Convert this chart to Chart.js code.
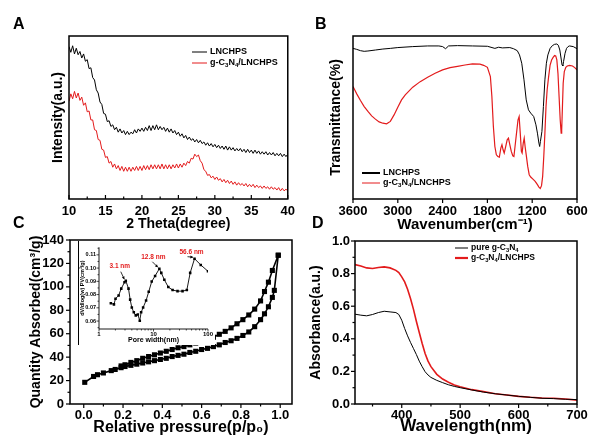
<!DOCTYPE html>
<html>
<head>
<meta charset="utf-8">
<script src="https://cdn.jsdelivr.net/npm/chart.js@4.4.1/dist/chart.umd.min.js"></script>
<style>
  html, body { margin: 0; padding: 0; background: #fff; }
  #page { position: relative; width: 597px; height: 437px; overflow: hidden; font-family: "Liberation Sans", Arial, sans-serif; }
  canvas { position: absolute; }
  .tag { position: absolute; font-weight: bold; font-size: 16px; line-height: 1; color: #000; }
  #insetBox { position: absolute; left: 78px; top: 241px; width: 136px; height: 104px; border-left: 1px solid #000; background: #fff; }
  #insetBox canvas { left: 0; top: 0; }
</style>
</head>
<body>
<div id="page">
  <canvas id="xrd" width="300" height="234" style="left:0;top:0"></canvas>
  <canvas id="ftir" width="297" height="234" style="left:300px;top:0"></canvas>
  <canvas id="bet" width="300" height="219" style="left:0;top:218px"></canvas>
  <canvas id="uv" width="297" height="219" style="left:300px;top:218px"></canvas>
  <div id="insetBox"><canvas id="pore" width="136" height="104"></canvas></div>
  <div class="tag" style="left:13px;top:16px">A</div>
  <div class="tag" style="left:315px;top:16px">B</div>
  <div class="tag" style="left:13px;top:215px">C</div>
  <div class="tag" style="left:312px;top:215px">D</div>
</div>
<script>
const FONT = '"Liberation Sans", Arial, Helvetica, sans-serif';
const RED = '#e31b1c';

// ---- A: XRD ----
const xrdTheta = [
  10, 10.25, 10.5, 10.75, 11, 11.25, 11.5, 11.75, 12, 12.25, 12.5, 12.75, 13, 13.25, 13.5, 13.75,
  14, 14.25, 14.5, 14.75, 15, 15.25, 15.5, 15.75, 16, 16.25, 16.5, 16.75, 17, 17.25, 17.5, 17.75,
  18, 18.25, 18.5, 18.75, 19, 19.25, 19.5, 19.75, 20, 20.25, 20.5, 20.75, 21, 21.25, 21.5, 21.75,
  22, 22.25, 22.5, 22.75, 23, 23.25, 23.5, 23.75, 24, 24.25, 24.5, 24.75, 25, 25.25, 25.5, 25.75,
  26, 26.25, 26.5, 26.75, 27, 27.25, 27.5, 27.75, 28, 28.25, 28.5, 28.75, 29, 29.25, 29.5, 29.75,
  30, 30.25, 30.5, 30.75, 31, 31.25, 31.5, 31.75, 32, 32.25, 32.5, 32.75, 33, 33.25, 33.5, 33.75,
  34, 34.25, 34.5, 34.75, 35, 35.25, 35.5, 35.75, 36, 36.25, 36.5, 36.75, 37, 37.25, 37.5, 37.75,
  38, 38.25, 38.5, 38.75, 39, 39.25, 39.5, 39.75, 40,
];
const xrdLNCHPS = [
  93.5, 90, 94, 89, 92.5, 88.5, 90.5, 86.5, 89, 84.5, 85.5, 80, 80.5, 74.5, 73, 67,
  65, 59.5, 58, 52.5, 52, 47.5, 48, 44.5, 45.5, 42.5, 44, 41, 43, 40.5, 42, 39.5,
  41.5, 39.5, 41, 40, 42.5, 40.5, 43, 41.5, 43.5, 41.5, 44, 42, 45, 42, 45, 42.5,
  45.5, 42.5, 44.5, 42.5, 44, 41.5, 43.5, 41, 43, 40.5, 42, 39.5, 41, 38.5, 40, 37.5,
  39, 36.5, 38, 36, 37, 35, 36.5, 34.5, 36, 34, 35, 33, 34.5, 32.5, 34, 32,
  33.5, 31.5, 33, 31, 32.5, 30.5, 32.5, 30, 32, 30, 31.5, 29.5, 31, 29.5, 31, 29,
  30.5, 28.5, 30.5, 28.5, 30, 28, 30, 28, 29.5, 27.5, 29, 27.5, 29, 27, 28.5, 27,
  28.5, 26.5, 28, 26.5, 28, 26, 27.5, 26, 27.5,
];
const xrdComposite = [
  60, 64.5, 61.5, 66, 62, 65, 60.5, 62.5, 57.5, 59, 53.5, 54, 48.5, 48.5, 42.5, 42,
  36.5, 36, 30.5, 30, 25.5, 26, 22, 23, 19.5, 21.5, 18.5, 20.5, 17.5, 20, 17, 19.5,
  17, 19.5, 17, 19.5, 17.5, 20, 17.5, 20, 17.5, 20.5, 18, 20.5, 18, 21, 18.5, 21,
  18.5, 21, 18.5, 21.5, 18.5, 21, 18.5, 21, 18.5, 21, 19, 21.5, 19, 21.5, 19.5, 22,
  20.5, 23, 22, 25, 24.5, 27.5, 26, 27, 23.5, 22, 18, 17, 14.5, 15, 13, 14,
  12, 13.5, 11.5, 12.5, 10.5, 12, 10, 11.5, 9.5, 11, 9, 10.5, 8.5, 10, 8.5, 9.5,
  8, 9.5, 7.5, 9, 7.5, 9, 7, 8.5, 7, 8, 6.5, 8, 6.5, 7.5, 6, 7.5,
  6, 7, 5.5, 7, 5, 6.5, 5, 6, 5,
];
const xrdTicks = [10, 15, 20, 25, 30, 35, 40];

// ---- B: FTIR ----
const ftirWaveLNCHPS = [3600, 3550, 3500, 3450, 3400, 3300, 3200, 3100, 3000, 2800, 2600, 2450, 2400, 2360, 2320, 2200, 2000, 1800, 1700, 1650, 1600, 1500, 1450, 1400, 1370, 1340, 1310, 1280, 1250, 1220, 1180, 1150, 1130, 1110, 1100, 1090, 1070, 1050, 1030, 1010, 990, 960, 930, 900, 870, 850, 830, 810, 800, 790, 780, 760, 740, 720, 700, 650, 600];
const ftirLNCHPS = [92.4, 91.8, 91.0, 90.6, 90.8, 91.4, 92.0, 92.4, 92.9, 93.5, 93.9, 93.9, 93.5, 92.2, 93.9, 94.1, 93.9, 93.7, 92.4, 93.1, 92.7, 92.9, 92.2, 91, 88.4, 83.3, 73.1, 60.8, 54.7, 52.7, 50.6, 45.5, 40.4, 34.3, 32.2, 35.3, 41.4, 56.7, 73.1, 83.3, 88.4, 92.4, 94.1, 94.9, 95.1, 94.3, 91.4, 85.3, 82.2, 81.6, 84.3, 89.4, 92.4, 93.5, 93.9, 93.5, 92.2];
const ftirWaveComposite = [3600, 3550, 3500, 3450, 3400, 3350, 3300, 3250, 3200, 3150, 3100, 3050, 3000, 2950, 2900, 2800, 2700, 2600, 2500, 2400, 2300, 2200, 2100, 2000, 1900, 1850, 1800, 1760, 1740, 1720, 1700, 1680, 1660, 1640, 1620, 1605, 1590, 1575, 1555, 1535, 1518, 1500, 1480, 1460, 1445, 1430, 1410, 1390, 1375, 1360, 1345, 1335, 1320, 1307, 1295, 1280, 1260, 1240, 1220, 1190, 1160, 1130, 1110, 1092, 1075, 1060, 1045, 1030, 1015, 1000, 980, 960, 940, 920, 900, 885, 870, 855, 840, 825, 812, 805, 795, 785, 770, 750, 730, 700, 660, 630, 600];
const ftirComposite = [69.0, 64.5, 60.4, 56.7, 53.7, 51.0, 49.0, 47.3, 46.5, 46.1, 47.6, 51.6, 56.3, 60.8, 63.9, 68.6, 72.0, 74.7, 77.1, 79.2, 80.6, 81.4, 82.2, 82.9, 82.7, 82.0, 80.8, 75.1, 62.9, 44.5, 32.2, 27.1, 26.1, 25.7, 31.2, 33.3, 30.2, 28.2, 32.2, 36.3, 37.3, 33.3, 29.2, 26.5, 26.1, 32.2, 40.4, 48.6, 50.6, 40.4, 29.2, 28.2, 34.3, 37.3, 32.2, 27.1, 20.0, 14.9, 13.5, 12.2, 10.8, 8.8, 7.3, 6.5, 8.2, 13.9, 26.1, 40.4, 56.7, 66.9, 75.1, 82.2, 85.3, 86.9, 88.0, 87.8, 85.3, 77.1, 62.9, 48.6, 40.4, 42.4, 56.7, 71.0, 78.2, 80.8, 81.6, 82.0, 81.6, 80.6, 79.2];
const ftirTicks = [3600, 3000, 2400, 1800, 1200, 600];

// ---- C: N2 isotherm ----
const isoAdsP = [0.005, 0.05, 0.07, 0.10, 0.14, 0.16, 0.19, 0.21, 0.24, 0.27, 0.30, 0.33, 0.36, 0.39, 0.42, 0.45, 0.48, 0.51, 0.54, 0.57, 0.60, 0.63, 0.66, 0.69, 0.72, 0.75, 0.78, 0.81, 0.84, 0.87, 0.90, 0.92, 0.94, 0.96, 0.97, 0.99];
const isoAdsQ = [18.5, 23.5, 25, 26.5, 28.5, 29.5, 31, 32, 33, 34, 35, 36, 37, 38, 39, 40.5, 41.5, 42.5, 44, 45, 46.5, 47.5, 49, 50.5, 52.5, 54, 56, 58.5, 61.5, 66, 72, 77, 83, 91, 97, 127];
const isoDesP = [0.99, 0.96, 0.94, 0.92, 0.90, 0.87, 0.84, 0.81, 0.78, 0.75, 0.72, 0.69, 0.66, 0.63, 0.60, 0.57, 0.54, 0.51, 0.48, 0.45, 0.42, 0.39, 0.36, 0.33, 0.30, 0.27, 0.24, 0.21, 0.19];
const isoDesQ = [127, 114, 104, 96, 88, 81, 76, 72, 68.5, 65, 62, 59.5, 57, 55, 53.5, 52, 50.5, 49, 48, 46.5, 45, 43.5, 42, 40.5, 39, 37, 35.5, 33.5, 32.5];
const isoXTicks = [0, 0.2, 0.4, 0.6, 0.8, 1.0];
const isoYTicks = [0, 20, 40, 60, 80, 100, 120, 140];

// ---- C inset: pore size distribution ----
const poreWidth = [1.65, 1.88, 2.01, 2.29, 2.56, 2.94, 3.1, 3.48, 3.73, 4.0, 4.35, 4.73, 5.15, 5.6, 5.93, 6.45, 7.31, 8.17, 9.27, 10.7, 12.8, 13.9, 15.8, 18.7, 22.4, 27.6, 34.1, 40.9, 47.1, 56.6, 73.6, 100];
const poreVolume = [0.0734, 0.0726, 0.0769, 0.0793, 0.0845, 0.0893, 0.0905, 0.0845, 0.0762, 0.0702, 0.0666, 0.0643, 0.065, 0.0603, 0.0666, 0.0702, 0.0755, 0.0821, 0.0898, 0.0941, 0.0995, 0.0964, 0.0912, 0.0857, 0.0834, 0.0826, 0.0826, 0.0834, 0.0964, 0.1071, 0.1024, 0.0976];
const poreXTicks = [1, 10, 100];
const poreYTicks = [0.06, 0.07, 0.08, 0.09, 0.10, 0.11];
const peakWidths = [3.1, 12.8, 56.6];
const peakLabels = ['3.1 nm', '12.8 nm', '56.6 nm'];

// ---- D: UV-vis ----
const uvWave = [320, 330, 340, 350, 360, 370, 380, 390, 395, 400, 405, 410, 415, 420, 425, 430, 435, 440, 445, 450, 460, 470, 480, 490, 500, 520, 540, 560, 580, 600, 620, 640, 660, 680, 700];
const uvPure = [0.551, 0.545, 0.541, 0.549, 0.561, 0.569, 0.565, 0.561, 0.549, 0.514, 0.463, 0.418, 0.378, 0.341, 0.304, 0.263, 0.229, 0.198, 0.178, 0.163, 0.145, 0.131, 0.118, 0.108, 0.1, 0.086, 0.073, 0.063, 0.055, 0.047, 0.041, 0.035, 0.033, 0.029, 0.027];
const uvComposite = [0.855, 0.847, 0.835, 0.831, 0.837, 0.841, 0.835, 0.82, 0.806, 0.78, 0.749, 0.704, 0.647, 0.582, 0.508, 0.439, 0.371, 0.31, 0.263, 0.229, 0.182, 0.153, 0.133, 0.116, 0.106, 0.088, 0.076, 0.063, 0.055, 0.047, 0.041, 0.037, 0.035, 0.031, 0.024];
const uvXTicks = [400, 500, 600, 700];
const uvYTicks = [0, 0.2, 0.4, 0.6, 0.8, 1.0];

// ---- helpers ----
const pts = (xs, ys) => xs.map((x, i) => ({ x, y: ys[i] }));

// text with "_3" style subscripts
const drawRich = (ctx, x, y, text, size) => {
  text.split(/(_\d)/).forEach((part) => {
    if (!part) return;
    const sub = part[0] === '_';
    const str = sub ? part.slice(1) : part;
    ctx.font = `bold ${sub ? size * 0.68 : size}px ${FONT}`;
    ctx.fillText(str, x, sub ? y + size * 0.3 : y);
    x += ctx.measureText(str).width;
  });
};

const axis = (o) => ({
  type: o.type || 'linear',
  min: o.min,
  max: o.max,
  reverse: !!o.reverse,
  afterBuildTicks: (s) => { s.ticks = (o.ticks || []).map((v) => ({ value: v })); },
  afterFit: (s) => { if (o.w !== undefined) s.width = o.w; if (o.h !== undefined) s.height = o.h; },
  grid: { display: false, drawTicks: false },
  border: { display: false },
  ticks: {
    display: o.ticks !== undefined && o.ticks.length > 0,
    autoSkip: false,
    maxRotation: 0,
    color: '#000',
    padding: o.pad || 0,
    font: { family: FONT, size: o.size || 13, weight: 'bold' },
    callback: o.fmt || ((v) => v),
  },
  title: {
    display: !!o.title,
    text: o.title,
    color: '#000',
    padding: o.titlePad || 0,
    font: { family: FONT, size: o.titleSize || 14, weight: 'bold', lineHeight: 1.2 },
  },
});

const minorValues = (scale) => {
  const vals = scale.ticks.map((t) => t.value).sort((a, b) => a - b);
  const out = [];
  if (scale.type === 'logarithmic') {
    for (let d = 1; d < scale.max; d *= 10) for (let k = 2; k < 10; k++) out.push(d * k);
    return out;
  }
  if (vals.length < 2) return out;
  const step = vals[1] - vals[0];
  for (let i = -1; i < vals.length; i++) {
    const v = vals[0] + (i + 0.5) * step;
    if (v >= scale.min && v <= scale.max) out.push(v);
  }
  return out;
};

const framePlugin = {
  id: 'frame',
  afterDatasetsDraw(chart, args, o) {
    const { ctx, chartArea: a, scales } = chart;
    ctx.save();
    ctx.strokeStyle = '#000';
    ctx.lineWidth = o.width || 1.5;
    ctx.beginPath();
    if (o.box) {
      ctx.rect(a.left, a.top, a.right - a.left, a.bottom - a.top);
    } else {
      ctx.moveTo(a.left, a.top);
      ctx.lineTo(a.left, a.bottom);
      ctx.lineTo(a.right, a.bottom);
    }
    ctx.stroke();
    ctx.lineWidth = o.tickWidth || 1.2;
    const dir = o.dir || 1;
    const major = o.major || 4;
    const minor = o.minor === undefined ? 2.5 : o.minor;
    const mark = (scale, horiz, values, len) => {
      values.forEach((v) => {
        const p = scale.getPixelForValue(v);
        ctx.beginPath();
        if (horiz) { ctx.moveTo(p, a.bottom); ctx.lineTo(p, a.bottom + dir * len); }
        else { ctx.moveTo(a.left, p); ctx.lineTo(a.left - dir * len, p); }
        ctx.stroke();
      });
    };
    (o.axes || ['x', 'y']).forEach((id) => {
      const s = scales[id];
      const horiz = s.isHorizontal();
      mark(s, horiz, s.ticks.map((t) => t.value), major);
      if (minor > 0) mark(s, horiz, minorValues(s), minor);
    });
    ctx.restore();
  },
};

const legendPlugin = (items) => ({
  id: 'legendLines',
  afterDraw(chart) {
    const { ctx } = chart;
    ctx.save();
    ctx.textBaseline = 'middle';
    ctx.fillStyle = '#000';
    items.forEach((it) => {
      ctx.strokeStyle = it.color;
      ctx.lineWidth = it.width;
      ctx.beginPath();
      ctx.moveTo(it.x, it.y);
      ctx.lineTo(it.x + it.len, it.y);
      ctx.stroke();
      drawRich(ctx, it.x + it.len + 3, it.y, it.text, it.size);
    });
    ctx.restore();
  },
});

Chart.register(framePlugin);
Chart.defaults.font.family = FONT;

const baseOptions = (padding, scales, frame) => ({
  responsive: false,
  animation: false,
  layout: { padding },
  plugins: { legend: { display: false }, tooltip: { enabled: false }, frame },
  scales,
});

// ---- A ----
new Chart(document.getElementById('xrd'), {
  type: 'line',
  data: {
    datasets: [
      { data: pts(xrdTheta, xrdLNCHPS), borderColor: '#000', borderWidth: 1, pointRadius: 0 },
      { data: pts(xrdTheta, xrdComposite), borderColor: RED, borderWidth: 1, pointRadius: 0 },
    ],
  },
  options: baseOptions({ top: 36, right: 9 }, {
    x: axis({ min: 10, max: 40, ticks: xrdTicks, h: 35, pad: 5, title: '2 Theta(degree)', titleSize: 14, titlePad: { bottom: 1 } }),
    y: axis({ min: 0, max: 100, ticks: [], w: 69, title: 'Intensity(a.u.)', titleSize: 14, titlePad: { top: 50 } }),
  }, { box: true, axes: ['x'], dir: -1 }),
  plugins: [legendPlugin([
    { x: 192, y: 52, len: 15, color: '#000', width: 1, text: 'LNCHPS', size: 9 },
    { x: 192, y: 63, len: 15, color: RED, width: 1, text: 'g-C_3N_4/LNCHPS', size: 9 },
  ])],
});

// ---- B ----
new Chart(document.getElementById('ftir'), {
  type: 'line',
  data: {
    datasets: [
      { data: pts(ftirWaveLNCHPS, ftirLNCHPS), borderColor: '#000', borderWidth: 1, pointRadius: 0 },
      { data: pts(ftirWaveComposite, ftirComposite), borderColor: RED, borderWidth: 1.2, pointRadius: 0 },
    ],
  },
  options: baseOptions({ top: 36, right: 20 }, {
    x: axis({ min: 600, max: 3600, reverse: true, ticks: ftirTicks, h: 35, pad: 5, title: 'Wavenumber(cm\u207B\u00B9)', titleSize: 15, titlePad: { bottom: 0 } }),
    y: axis({ min: 0, max: 100, ticks: [], w: 53, title: 'Transmittance(%)', titleSize: 14, titlePad: { top: 28 } }),
  }, { box: true, axes: ['x'], dir: 1, minor: 0 }),
  plugins: [legendPlugin([
    { x: 62, y: 173, len: 18, color: '#000', width: 2, text: 'LNCHPS', size: 9 },
    { x: 62, y: 183, len: 18, color: RED, width: 1, text: 'g-C_3N_4/LNCHPS', size: 9 },
  ])],
});

// ---- C ----
const isoStyle = { borderColor: '#000', backgroundColor: '#000', borderWidth: 1.6, pointStyle: 'rect', pointRadius: 3.6, pointBorderWidth: 0 };
new Chart(document.getElementById('bet'), {
  type: 'line',
  data: {
    datasets: [
      { data: pts(isoAdsP, isoAdsQ), ...isoStyle },
      { data: pts(isoDesP, isoDesQ), ...isoStyle },
    ],
  },
  options: baseOptions({ top: 22, right: 8 }, {
    x: axis({ min: -0.07, max: 1.06, ticks: isoXTicks, h: 33, pad: 4, size: 13, fmt: (v) => v.toFixed(1), title: 'Relative pressure(p/p\u2080)', titleSize: 16, titlePad: { bottom: 0 } }),
    y: axis({ min: 0, max: 140, ticks: isoYTicks, w: 70, pad: 6, size: 13, title: 'Quantity Absorbed(cm\u00B3/g)', titleSize: 14, titlePad: { top: 28 } }),
  }, { box: true, dir: 1 }),
});

// ---- C inset ----
new Chart(document.getElementById('pore'), {
  type: 'line',
  data: {
    datasets: [
      { data: pts(poreWidth, poreVolume), borderColor: '#000', backgroundColor: '#000', borderWidth: 0.9, pointStyle: 'rect', pointRadius: 1.8, pointBorderWidth: 0 },
    ],
  },
  options: baseOptions({ top: 2, right: 6 }, {
    x: axis({ type: 'logarithmic', min: 1, max: 100, ticks: poreXTicks, h: 16, pad: 2, size: 6, title: 'Pore width(nm)', titleSize: 7, titlePad: { bottom: 1 } }),
    y: axis({ min: 0.054, max: 0.1157, ticks: poreYTicks, w: 20, pad: 3, size: 5.5, fmt: (v) => v.toFixed(2), title: 'dV/dlog(w) PV(cm\u00B3/g)', titleSize: 5.5, titlePad: { top: 0 } }),
  }, { box: false, dir: 1, width: 0.9, tickWidth: 0.7, major: 2.5, minor: 1.5 }),
  plugins: [{
    id: 'peaks',
    afterDraw(chart) {
      const { ctx, scales } = chart;
      const offsets = [[-6, -14, -5, -9], [-6, -12, -7, -7], [-3, -6, -7, -2]];
      ctx.save();
      ctx.textAlign = 'center';
      ctx.textBaseline = 'middle';
      peakWidths.forEach((w, i) => {
        const v = poreVolume[poreWidth.indexOf(w)];
        const px = scales.x.getPixelForValue(w);
        const py = scales.y.getPixelForValue(v);
        const [tx, ty, ax, ay] = offsets[i];
        ctx.fillStyle = RED;
        ctx.font = `bold 6.5px ${FONT}`;
        ctx.fillText(peakLabels[i], px + tx, py + ty);
        // arrow to the peak
        const ex = px - 1.5, ey = py - 1.5;
        const sx = px + ax, sy = py + ay;
        ctx.strokeStyle = '#000';
        ctx.fillStyle = '#000';
        ctx.lineWidth = 0.8;
        ctx.beginPath();
        ctx.moveTo(sx, sy);
        ctx.lineTo(ex, ey);
        ctx.stroke();
        const ang = Math.atan2(ey - sy, ex - sx);
        ctx.beginPath();
        ctx.moveTo(ex, ey);
        ctx.lineTo(ex - 3 * Math.cos(ang - 0.5), ey - 3 * Math.sin(ang - 0.5));
        ctx.lineTo(ex - 3 * Math.cos(ang + 0.5), ey - 3 * Math.sin(ang + 0.5));
        ctx.closePath();
        ctx.fill();
      });
      ctx.restore();
    },
  }],
});

// ---- D ----
new Chart(document.getElementById('uv'), {
  type: 'line',
  data: {
    datasets: [
      { data: pts(uvWave, uvPure), borderColor: '#000', borderWidth: 1, pointRadius: 0 },
      { data: pts(uvWave, uvComposite), borderColor: RED, borderWidth: 1.6, pointRadius: 0 },
    ],
  },
  options: baseOptions({ top: 23, right: 20 }, {
    x: axis({ min: 320, max: 700, ticks: uvXTicks, h: 33, pad: 4, size: 13, title: 'Wavelength(nm)', titleSize: 17, titlePad: { bottom: 0 } }),
    y: axis({ min: 0, max: 1.0, ticks: uvYTicks, w: 55, pad: 5, size: 13, fmt: (v) => v.toFixed(1), title: 'Absorbance(a.u.)', titleSize: 14, titlePad: { top: 8 } }),
  }, { box: true, dir: 1 }),
  plugins: [legendPlugin([
    { x: 155, y: 30, len: 13, color: '#000', width: 1, text: 'pure g-C_3N_4', size: 8.5 },
    { x: 155, y: 40, len: 13, color: RED, width: 2.2, text: 'g-C_3N_4/LNCHPS', size: 8.5 },
  ])],
});
</script>
</body>
</html>
